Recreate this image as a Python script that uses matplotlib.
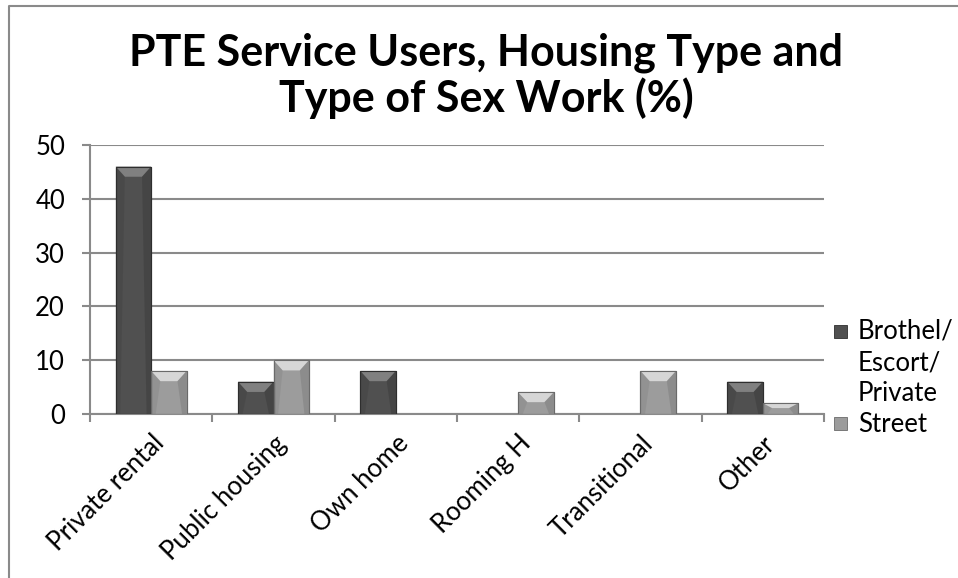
import numpy as np
import matplotlib
matplotlib.use("Agg")
import matplotlib.pyplot as plt
from matplotlib.patches import Polygon, Rectangle
from matplotlib.lines import Line2D

plt.rcParams['font.family'] = ['Lato', 'DejaVu Sans']

categories = ['Private rental', 'Public housing', 'Own home', 'Rooming H', 'Transitional', 'Other']
series_names = ['Brothel/\nEscort/\nPrivate', 'Street']
brothel = [46, 6, 8, 0, 0, 6]
street = [8, 10, 0, 4, 8, 2]

GRID = '#8a8a8a'
# body, bevel top, outline
STYLES = [('#505050', '#808080', '#2e2e2e'),
          ('#9c9c9c', '#d6d6d6', '#6a6a6a')]

W, H = 958, 578
fig = plt.figure(figsize=(W / 100, H / 100), dpi=100)
ax = fig.add_axes([90 / W, 1 - 414 / H, (824 - 90) / W, (414 - 145) / H])

x = np.arange(len(categories))
bw = 0.29


def bevel_bars(xs, values, body, top, edge):
    bars = ax.bar(xs, values, bw, color=body, edgecolor=edge, linewidth=0.8, zorder=3)
    for b, v in zip(bars, values):
        if v <= 0:
            b.set_visible(False)
            continue
        x0, x1 = b.get_x(), b.get_x() + b.get_width()
        d = min(1.9, v * 0.45)
        ins = 0.075
        ax.add_patch(Polygon([(x0, v), (x1, v), (x1 - ins, v - d), (x0 + ins, v - d)],
                             closed=True, facecolor=top, edgecolor='none', zorder=4))
        # darker strips on the side faces
        ax.add_patch(Polygon([(x1, v), (x1 - ins, v - d), (x1 - ins * 0.5, 0), (x1, 0)],
                             closed=True, facecolor=edge, alpha=0.3, edgecolor='none', zorder=4))
        ax.add_patch(Polygon([(x0, v), (x0 + ins, v - d), (x0 + ins * 0.5, 0), (x0, 0)],
                             closed=True, facecolor=edge, alpha=0.18, edgecolor='none', zorder=4))
        ax.add_patch(Rectangle((x0, 0), x1 - x0, v, facecolor='none', edgecolor=edge,
                               linewidth=0.8, zorder=5))
    return bars


bevel_bars(x - bw / 2, brothel, *STYLES[0])
bevel_bars(x + bw / 2, street, *STYLES[1])

ax.set_xlim(-0.5, len(categories) - 0.5)
ax.set_ylim(0, 50)
ax.set_yticks(range(0, 51, 10))
ax.yaxis.grid(True, color=GRID, linewidth=1.5, zorder=0)
ax.set_axisbelow(True)
for s in ['top', 'right']:
    ax.spines[s].set_visible(False)
for s in ['left', 'bottom']:
    ax.spines[s].set_color(GRID)
    ax.spines[s].set_linewidth(1.5)

ax.tick_params(axis='y', length=6, width=1.5, color=GRID, pad=12, labelsize=18.5)
ax.set_xticks(x)
ax.set_xticks(np.arange(len(categories) + 1) - 0.5, minor=True)
ax.tick_params(axis='x', which='major', length=0, pad=12)
ax.tick_params(axis='x', which='minor', length=6, width=1.5, color=GRID)
ax.set_xticklabels(categories, rotation=45, ha='right', rotation_mode='anchor', fontsize=18.5)

fig.text(486 / W, 1 - 53 / H, 'PTE Service Users, Housing Type and', ha='center', va='center',
         fontsize=31, fontweight='bold')
fig.text(486 / W, 1 - 98 / H, 'Type of Sex Work (%)', ha='center', va='center',
         fontsize=31, fontweight='bold')

# outer chart frame
fig.add_artist(Line2D([9 / W, 9 / W, 1], [0, 1 - 6 / H, 1 - 6 / H], color=GRID, linewidth=1.5))

# legend
leg_x = 841
for (body, top, edge), name, ty in zip(STYLES, series_names, [332, 424]):
    fig.add_artist(Rectangle(((leg_x - 7) / W, 1 - (ty + 6) / H), 13 / W, 13 / H,
                             facecolor=body, edgecolor=edge, linewidth=0.6))
    fig.text((leg_x + 17) / W, 1 - (ty - 13) / H if '\n' in name else 1 - ty / H, name,
             ha='left', va='top' if '\n' in name else 'center',
             fontsize=18.5, linespacing=1.3)

fig.savefig('out.png', dpi=100)
